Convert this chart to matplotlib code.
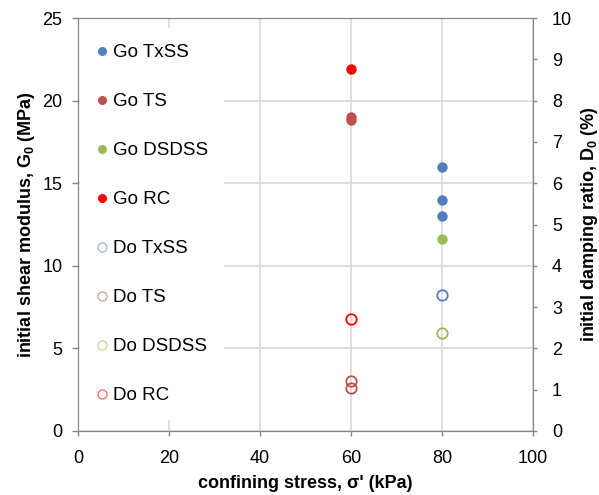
import matplotlib
matplotlib.use('Agg')
import matplotlib.pyplot as plt
from matplotlib.lines import Line2D

plt.rcParams['font.family'] = ['Liberation Sans', 'DejaVu Sans']
plt.rcParams['mathtext.fontset'] = 'custom'
plt.rcParams['mathtext.rm'] = 'Liberation Sans'
plt.rcParams['mathtext.bf'] = 'Liberation Sans:bold'

# data
go_txss_x = [80, 80, 80]
go_txss_y = [16.0, 14.0, 13.0]
go_ts_x = [60, 60]
go_ts_y = [19.0, 18.8]
go_dsdss_x = [80]
go_dsdss_y = [11.6]
go_rc_x = [60]
go_rc_y = [21.9]

do_txss_x = [80]
do_txss_y = [3.3]
do_ts_x = [60, 60]
do_ts_y = [1.21, 1.04]
do_dsdss_x = [80]
do_dsdss_y = [2.38]
do_rc_x = [60]
do_rc_y = [2.7]

c_txss = '#4F81BD'
c_ts = '#C0504D'
c_dsdss = '#9BBB59'
c_rc = '#FF0000'
spine_c = '#868686'
ms = 7.5

fig = plt.figure(figsize=(5.99, 4.95), dpi=100)
ax = fig.add_axes([0.130, 0.1293, 0.760, 0.8343])
ax2 = ax.twinx()

ax.plot(go_txss_x, go_txss_y, 'o', color=c_txss, ms=ms, mec='none')
ax.plot(go_ts_x, go_ts_y, 'o', color=c_ts, ms=ms, mec='none')
ax.plot(go_dsdss_x, go_dsdss_y, 'o', color=c_dsdss, ms=ms, mec='none')
ax.plot(go_rc_x, go_rc_y, 'o', color=c_rc, ms=ms, mec='none')

ax2.plot(do_txss_x, do_txss_y, 'o', mfc='none', mec=c_txss, ms=ms, mew=1.3)
ax2.plot(do_ts_x, do_ts_y, 'o', mfc='none', mec=c_ts, ms=ms, mew=1.3)
ax2.plot(do_dsdss_x, do_dsdss_y, 'o', mfc='none', mec=c_dsdss, ms=ms, mew=1.3)
ax2.plot(do_rc_x, do_rc_y, 'o', mfc='none', mec=c_rc, ms=ms, mew=1.3)

ax.set_xlim(0, 100)
ax.set_ylim(0, 25)
ax2.set_ylim(0, 10)
ax.set_xticks(range(0, 101, 20))
ax.set_yticks(range(0, 26, 5))
ax2.set_yticks(range(0, 11, 1))

ax.grid(True, color='#D9D9D9', lw=1.2)
ax.set_axisbelow(True)

for a in (ax, ax2):
    for s in a.spines.values():
        s.set_color(spine_c)
    a.tick_params(colors=spine_c, labelcolor='black', labelsize=13, width=1)
ax.tick_params(axis='x', length=3.5, pad=10)
ax.tick_params(axis='y', length=4, pad=7)
ax2.tick_params(axis='y', length=3, pad=10.5)

ax.set_xlabel("confining stress, σ' (kPa)", fontsize=13, fontweight='bold', labelpad=6)
ax.set_ylabel('initial shear modulus, G$_\\mathbf{0}$ (MPa)', fontsize=13, fontweight='bold', labelpad=4)
ax2.set_ylabel('initial damping ratio, D$_\\mathbf{0}$ (%)', fontsize=13, fontweight='bold', labelpad=5)

labels = ['Go TxSS', 'Go TS', 'Go DSDSS', 'Go RC', 'Do TxSS', 'Do TS', 'Do DSDSS', 'Do RC']
colors = [c_txss, c_ts, c_dsdss, c_rc, c_txss, c_ts, c_dsdss, c_rc]
handles = []
for i, (lab, col) in enumerate(zip(labels, colors)):
    if i < 4:
        h = Line2D([], [], ls='none', marker='o', color=col, mec='none', ms=6.5)
    else:
        h = Line2D([], [], ls='none', marker='o', mfc='none', mec=col, ms=6.5, mew=0.9, alpha=0.6)
    handles.append(h)

leg = ax2.legend(handles, labels, loc='upper left',
                 bbox_to_anchor=(80 / 599, 1 - 28 / 495), bbox_transform=fig.transFigure,
                 fontsize=13.5, labelspacing=1.7, handlelength=0.6, handletextpad=0.3,
                 borderpad=0.85, borderaxespad=0, frameon=True, fancybox=False,
                 facecolor='white', edgecolor='none', framealpha=1)

fig.savefig('out.png', dpi=100)
